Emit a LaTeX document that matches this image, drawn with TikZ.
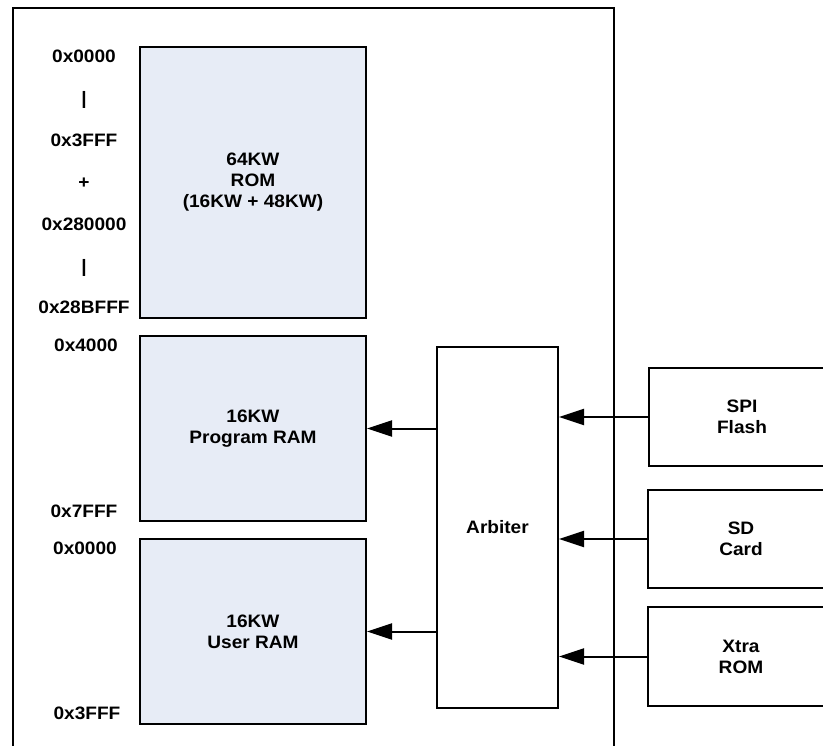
\documentclass[tikz,border=0pt]{standalone}
\usepackage{fontspec}
\setmainfont[FakeStretch=1.06]{Liberation Sans}
\usetikzlibrary{arrows.meta}
\definecolor{memfill}{RGB}{231,236,246}
\tikzset{
  lbl/.style={font=\bfseries\fontsize{18}{21}\selectfont, align=center, inner sep=0pt},
  membox/.style={draw, line width=2pt, fill=memfill, lbl},
  plainbox/.style={draw, line width=2pt, fill=white, lbl},
  addr/.style={lbl},
  conn/.style={line width=2pt, -{Triangle[length=25pt,width=16pt]}},
  frame/.style={line width=2pt}
}
\begin{document}
\begin{tikzpicture}[x=1pt,y=-1pt]
\path[use as bounding box, clip] (0,0) rectangle (823,746);
\fill[white] (0,0) rectangle (823,746);
% outer frame (open at the bottom)
\coordinate (fbl) at (12.5,760);
\coordinate (ftl) at (12.5,8);
\coordinate (ftr) at (614,8);
\coordinate (fbr) at (614,760);
\draw[frame] (fbl) -- (ftl) -- (ftr) -- (fbr);
% memory blocks
\node[membox, minimum width=226pt, minimum height=271pt] (rom) at (253,182.5) {64KW\\ROM\\(16KW + 48KW)};
\node[membox, minimum width=226pt, minimum height=185pt] (prog) at (253,428.5) {16KW\\Program RAM};
\node[membox, minimum width=226pt, minimum height=185pt] (user) at (253,631.5) {16KW\\User RAM};
% arbiter
\node[plainbox, minimum width=121pt, minimum height=361pt] (arb) at (497.5,527.5) {Arbiter};
% external sources
\node[plainbox, minimum width=186pt, minimum height=98pt] (spi) at (742,417) {SPI\\Flash};
\node[plainbox, minimum width=186pt, minimum height=98pt] (sd) at (741,539) {SD\\Card};
\node[plainbox, minimum width=186pt, minimum height=99pt] (xtra) at (741,656.5) {Xtra\\ROM};
% address labels
\node[addr] (a1) at (84,56) {0x0000};
\node[addr] (a2) at (84,100) {|};
\node[addr] (a3) at (84,140) {0x3FFF};
\node[addr] (a4) at (84,183) {+};
\node[addr] (a5) at (84,224) {0x280000};
\node[addr] (a6) at (84,268) {|};
\node[addr] (a7) at (84,307) {0x28BFFF};
\node[addr] (a8) at (86,345) {0x4000};
\node[addr] (a9) at (84,511) {0x7FFF};
\node[addr] (a10) at (85,548) {0x0000};
\node[addr] (a11) at (87,713) {0x3FFF};
% connectors
\draw[conn] (arb.west |- prog.east) -- (prog.east);
\draw[conn] (arb.west |- user.east) -- (user.east);
\draw[conn] (spi.west) -- (spi.west -| arb.east);
\draw[conn] (sd.west) -- (sd.west -| arb.east);
\draw[conn] (xtra.west) -- (xtra.west -| arb.east);
\end{tikzpicture}
\end{document}
